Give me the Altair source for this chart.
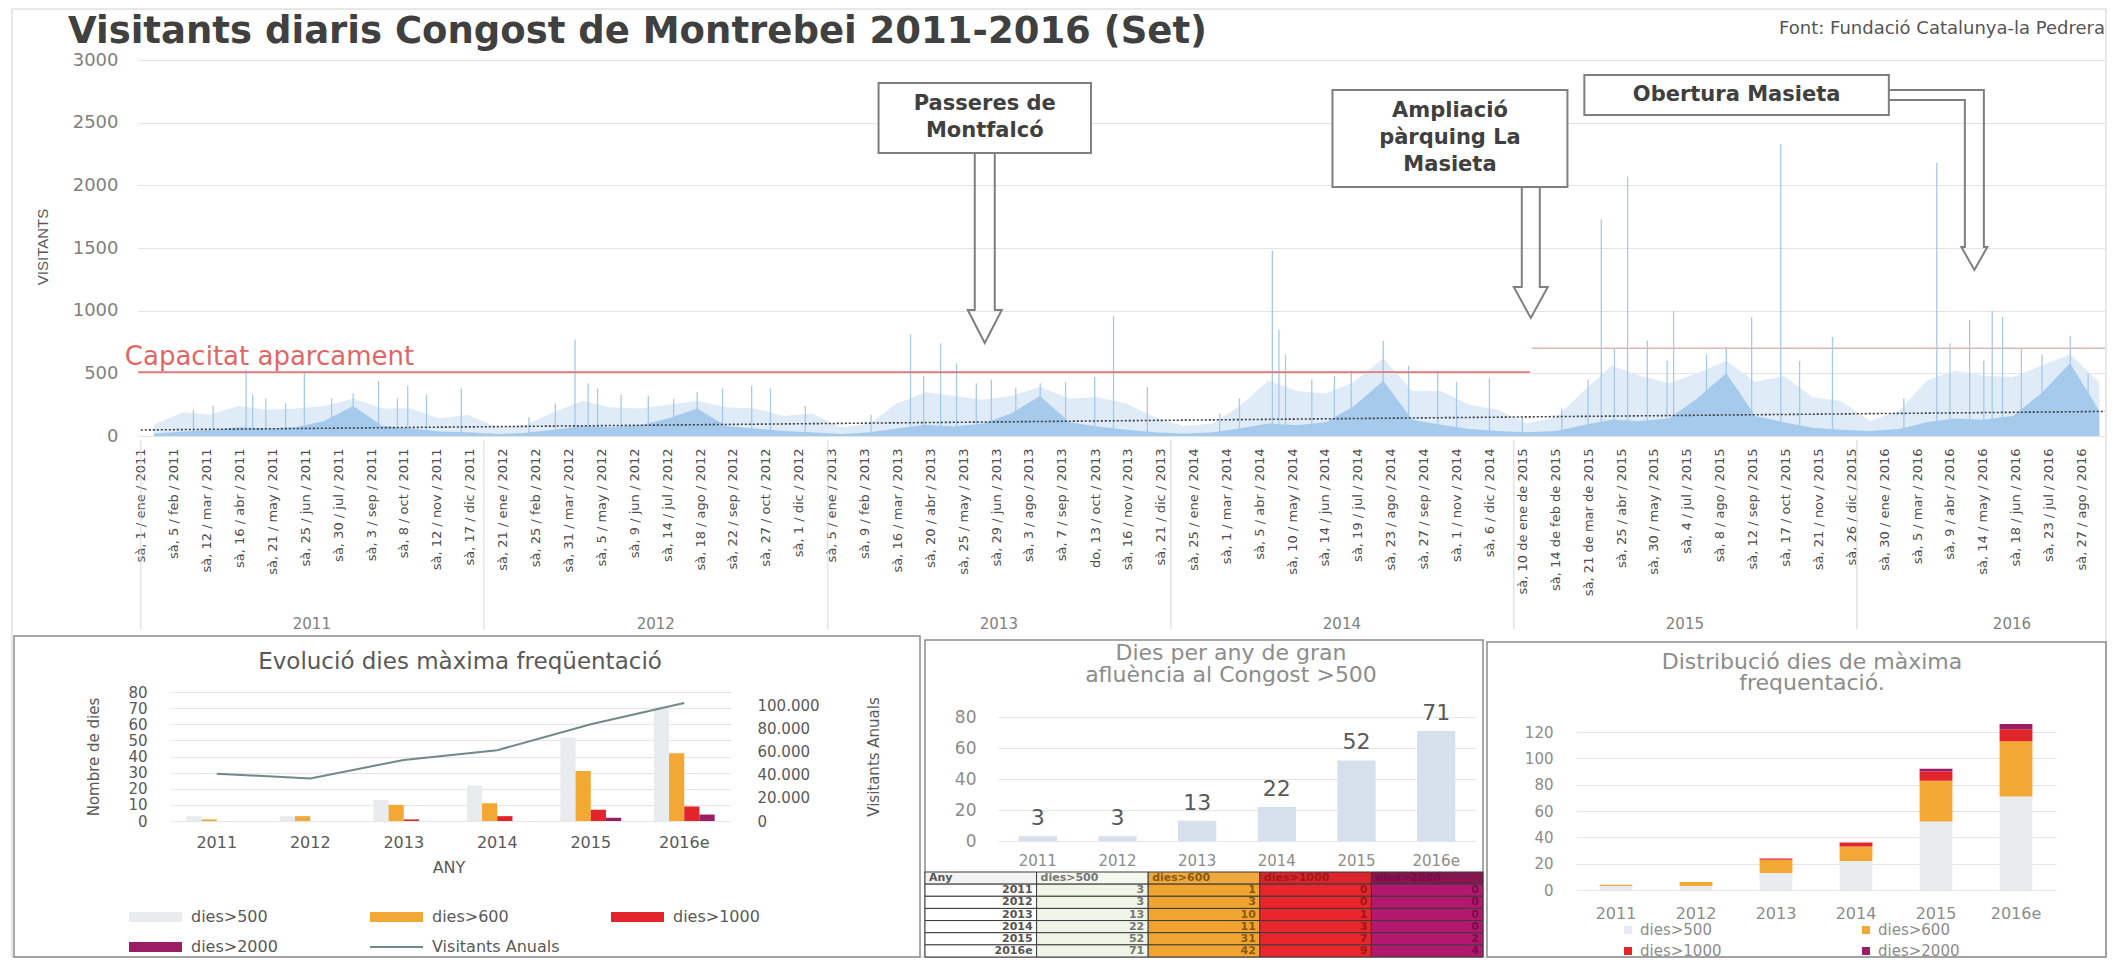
import json
import pandas as pd
import altair as alt

FONT = "DejaVu Sans"

# ------------------------------------------------------------------ texts
TITLE = "Visitants diaris Congost de Montrebei 2011-2016 (Set)"
SOURCE = "Font: Fundació Catalunya-la Pedrera"
Y_TITLE = "VISITANTS"
CAPACITY_LABEL = "Capacitat aparcament"

# ------------------------------------------------------------------ top chart: x ticks
TICK_DATES = [
    "2011-01-01", "2011-02-05", "2011-03-12", "2011-04-16", "2011-05-21", "2011-06-25",
    "2011-07-30", "2011-09-03", "2011-10-08", "2011-11-12", "2011-12-17",
    "2012-01-21", "2012-02-25", "2012-03-31", "2012-05-05", "2012-06-09", "2012-07-14",
    "2012-08-18", "2012-09-22", "2012-10-27", "2012-12-01",
    "2013-01-05", "2013-02-09", "2013-03-16", "2013-04-20", "2013-05-25", "2013-06-29",
    "2013-08-03", "2013-09-07", "2013-10-13", "2013-11-16", "2013-12-21",
    "2014-01-25", "2014-03-01", "2014-04-05", "2014-05-10", "2014-06-14", "2014-07-19",
    "2014-08-23", "2014-09-27", "2014-11-01", "2014-12-06",
    "2015-01-10", "2015-02-14", "2015-03-21", "2015-04-25", "2015-05-30", "2015-07-04",
    "2015-08-08", "2015-09-12", "2015-10-17", "2015-11-21", "2015-12-26",
    "2016-01-30", "2016-03-05", "2016-04-09", "2016-05-14", "2016-06-18", "2016-07-23",
    "2016-08-27",
]
TICK_LABELS = [
    "sà, 1 / ene / 2011", "sà, 5 / feb / 2011", "sà, 12 / mar / 2011", "sà, 16 / abr / 2011",
    "sà, 21 / may / 2011", "sà, 25 / jun / 2011", "sà, 30 / jul / 2011", "sà, 3 / sep / 2011",
    "sà, 8 / oct / 2011", "sà, 12 / nov / 2011", "sà, 17 / dic / 2011",
    "sà, 21 / ene / 2012", "sà, 25 / feb / 2012", "sà, 31 / mar / 2012", "sà, 5 / may / 2012",
    "sà, 9 / jun / 2012", "sà, 14 / jul / 2012", "sà, 18 / ago / 2012", "sà, 22 / sep / 2012",
    "sà, 27 / oct / 2012", "sà, 1 / dic / 2012",
    "sà, 5 / ene / 2013", "sà, 9 / feb / 2013", "sà, 16 / mar / 2013", "sà, 20 / abr / 2013",
    "sà, 25 / may / 2013", "sà, 29 / jun / 2013", "sà, 3 / ago / 2013", "sà, 7 / sep / 2013",
    "do, 13 / oct / 2013", "sà, 16 / nov / 2013", "sà, 21 / dic / 2013",
    "sà, 25 / ene / 2014", "sà, 1 / mar / 2014", "sà, 5 / abr / 2014", "sà, 10 / may / 2014",
    "sà, 14 / jun / 2014", "sà, 19 / jul / 2014", "sà, 23 / ago / 2014", "sà, 27 / sep / 2014",
    "sà, 1 / nov / 2014", "sà, 6 / dic / 2014",
    "sà, 10 de ene de 2015", "sà, 14 de feb de 2015", "sà, 21 de mar de 2015",
    "sà, 25 / abr / 2015", "sà, 30 / may / 2015", "sà, 4 / jul / 2015", "sà, 8 / ago / 2015",
    "sà, 12 / sep / 2015", "sà, 17 / oct / 2015", "sà, 21 / nov / 2015", "sà, 26 / dic / 2015",
    "sà, 30 / ene / 2016", "sà, 5 / mar / 2016", "sà, 9 / abr / 2016", "sà, 14 / may / 2016",
    "sà, 18 / jun / 2016", "sà, 23 / jul / 2016", "sà, 27 / ago / 2016",
]
YEAR_NAMES = ["2011", "2012", "2013", "2014", "2015", "2016"]
YEAR_STARTS = ["2011-01-01", "2012-01-01", "2013-01-01", "2014-01-01", "2015-01-01", "2016-01-01"]
YEAR_LABEL_DAYS = [182, 548, 913, 1278, 1643, 1991]

MONTH_ENV = [
    90, 190, 170, 240, 210, 220, 240, 300, 220, 220, 140, 170,
    70, 90, 190, 280, 230, 220, 250, 280, 230, 220, 160, 180,
    70, 100, 260, 350, 320, 290, 320, 390, 300, 310, 260, 150,
    80, 100, 240, 440, 360, 340, 430, 620, 360, 360, 250, 210,
    100, 150, 350, 560, 480, 420, 500, 600, 430, 480, 310, 280,
    120, 200, 440, 520, 480, 470, 560, 650, 430,
]
MONTH_BASE = [
    20, 35, 45, 70, 60, 70, 120, 240, 80, 60, 35, 30,
    15, 25, 50, 80, 70, 85, 140, 220, 80, 60, 40, 30,
    15, 30, 60, 90, 75, 100, 180, 320, 110, 75, 50, 30,
    20, 30, 60, 100, 85, 110, 240, 440, 130, 90, 55, 40,
    30, 40, 85, 130, 120, 140, 300, 500, 160, 110, 65, 50,
    40, 55, 110, 140, 130, 160, 340, 580, 200,
]
SPIKE_DATES = [
    "2011-02-26", "2011-03-19", "2011-04-23", "2011-04-30", "2011-05-14", "2011-06-04",
    "2011-06-24", "2011-07-23", "2011-08-15", "2011-09-11", "2011-10-01", "2011-10-12",
    "2011-11-01", "2011-12-08",
    "2012-02-18", "2012-03-17", "2012-04-07", "2012-04-21", "2012-05-01", "2012-05-26",
    "2012-06-24", "2012-07-21", "2012-08-15", "2012-09-11", "2012-10-12", "2012-11-01",
    "2012-12-08",
    "2013-02-16", "2013-03-30", "2013-04-13", "2013-05-01", "2013-05-18", "2013-06-08",
    "2013-06-24", "2013-07-20", "2013-08-15", "2013-09-11", "2013-10-12", "2013-11-01",
    "2013-12-07",
    "2014-02-22", "2014-03-15", "2014-04-19", "2014-04-26", "2014-05-03", "2014-05-31",
    "2014-06-24", "2014-07-12", "2014-08-15", "2014-09-11", "2014-10-12", "2014-11-01",
    "2014-12-06",
    "2015-01-10", "2015-02-21", "2015-03-21", "2015-04-04", "2015-04-18", "2015-05-02",
    "2015-05-23", "2015-06-13", "2015-06-20", "2015-07-25", "2015-08-15", "2015-09-11",
    "2015-10-12", "2015-11-01", "2015-12-06",
    "2016-02-20", "2016-03-26", "2016-04-09", "2016-04-30", "2016-05-15", "2016-05-24",
    "2016-06-04", "2016-06-24", "2016-07-16", "2016-08-15", "2016-09-03",
]
SPIKE_VALUES = [
    210, 240, 530, 330, 300, 260, 500, 300, 340, 440, 300, 400, 330, 380,
    150, 260, 770, 420, 380, 330, 320, 300, 350, 380, 400, 380, 240,
    170, 810, 480, 740, 580, 420, 450, 380, 420, 430, 470, 960, 390,
    180, 300, 1480, 850, 650, 450, 480, 520, 760, 560, 520, 430, 460,
    150, 220, 450, 1730, 700, 2070, 760, 600, 1000, 650, 710, 950, 2330, 600, 790,
    300, 2180, 740, 925, 600, 1000, 950, 700, 650, 800, 500,
]
CAP_FROM = ["2010-12-29", "2015-01-20"]
CAP_TO = ["2015-01-18", "2016-09-21"]
CAP_VALUES = [510, 700]
CAP_COLORS = ["#e8767a", "#d8b9b9"]
TREND_DATES = ["2011-01-01", "2016-09-21"]
TREND_VALUES = [48, 196]

# call-outs (x in days since 1 Jan 2011, y in visitors)
CALLOUT_TEXTS = ["Passeres de\nMontfalcó", "Ampliació\npàrquing La\nMasieta", "Obertura Masieta"]
CALLOUT_DAY0 = [785, 1268, 1536]
CALLOUT_DAY1 = [1011, 1518, 1860]
CALLOUT_V0 = [2258, 1987, 2561]
CALLOUT_V1 = [2817, 2761, 2881]
ARROW_DAY = [898, 1479, 1951]
ARROW_NECK = [1005, 1189, 1508]
ARROW_TIP = [742, 942, 1325]

# ------------------------------------------------------------------ bottom panels
YEARS = ["2011", "2012", "2013", "2014", "2015", "2016e"]
SERIES = ["dies>500", "dies>600", "dies>1000", "dies>2000"]
D500 = [3, 3, 13, 22, 52, 71]
D600 = [1, 3, 10, 11, 31, 42]
D1000 = [0, 0, 1, 3, 7, 9]
D2000 = [0, 0, 0, 0, 2, 4]
VISITANTS_ANUALS = [41000, 37000, 53000, 61500, 84000, 102500]

P1_TITLE = "Evolució dies màxima freqüentació"
P2_TITLE = ["Dies per any de gran", "afluència al Congost  >500"]
P3_TITLE = ["Distribució dies de màxima", "frequentació."]

ORANGE = "#f2a833"
RED = "#e2242b"
PURPLE = "#9b1d63"
COLORS_P1 = ["#e9ecef", ORANGE, RED, PURPLE]
COLORS_P3 = ["#edf1f8", ORANGE, RED, PURPLE]
LINE_COLOR = "#6f8a88"

# ------------------------------------------------------------------ helpers
ONE = pd.DataFrame({"k": [0]})
BASE_DAY = pd.Timestamp("2011-01-01")


def to_day(s):
    return int((pd.Timestamp(s) - BASE_DAY).days)


def label(txt, x, y, size, color, weight="normal", align="center", baseline="middle",
          angle=0, font=FONT):
    return alt.Chart(ONE).mark_text(
        text=txt, fontSize=size, color=color, fontWeight=weight, align=align,
        baseline=baseline, angle=angle, font=font,
    ).encode(x=alt.value(x), y=alt.value(y))


def frame(x0, x1, y0, y1, stroke, sw=1.0):
    return alt.Chart(ONE).mark_rect(fillOpacity=0, stroke=stroke, strokeWidth=sw).encode(
        x=alt.value(x0), x2=alt.value(x1), y=alt.value(y0), y2=alt.value(y1))


def swatch(x0, x1, y0, y1, color):
    return alt.Chart(ONE).mark_rect(color=color).encode(
        x=alt.value(x0), x2=alt.value(x1), y=alt.value(y0), y2=alt.value(y1))


# ================================================================== TOP CHART
TW, TH = 2100, 622
X_DOM = [to_day("2010-12-29"), to_day("2016-09-21")]
X_RANGE = [130, 2097]
Y_RANGE = [428, 52]
PX_PER_DAY = (X_RANGE[1] - X_RANGE[0]) / (X_DOM[1] - X_DOM[0])
PX_PER_VIS = (Y_RANGE[0] - Y_RANGE[1]) / 3000.0

xs = alt.Scale(domain=X_DOM, range=X_RANGE, nice=False, zero=False)
ys = alt.Scale(domain=[0, 3000], range=Y_RANGE, nice=False)

TICK_DAYS = [to_day(d) for d in TICK_DATES]
tick_expr = "%s[indexof(%s, datum.value)]" % (
    json.dumps(TICK_LABELS, ensure_ascii=False), json.dumps(TICK_DAYS))

X_AX = alt.Axis(
    values=TICK_DAYS, labelExpr=tick_expr, labelAngle=270, labelFont=FONT,
    labelFontSize=13, labelColor="#4d4d4d", labelPadding=12, labelOverlap=False,
    labelFlush=False, labelBound=False, domain=False, ticks=False, grid=False,
    offset=-194, title=None)
Y_AX = alt.Axis(
    values=[0, 500, 1000, 1500, 2000, 2500, 3000], format="d", grid=True, gridColor="#e3e3e3",
    domain=False, ticks=False, labelFont=FONT, labelFontSize=18, labelColor="#7f7f7f",
    labelPadding=20, offset=-130, title=None)


def X(f):
    return alt.X(f, type="quantitative", scale=xs, axis=X_AX)


def Y(f):
    return alt.Y(f, type="quantitative", scale=ys, axis=Y_AX)


month_pos = pd.date_range("2011-01-01", periods=len(MONTH_ENV), freq="MS") + pd.Timedelta(days=14)
df_month = pd.DataFrame({
    "day": [to_day(d) for d in month_pos],
    "env": MONTH_ENV,
    "base": MONTH_BASE,
})
df_spk = pd.DataFrame({"day": [to_day(d) for d in SPIKE_DATES], "v": SPIKE_VALUES})
df_cap = pd.DataFrame({
    "d0": [to_day(d) for d in CAP_FROM], "d1": [to_day(d) for d in CAP_TO],
    "v": CAP_VALUES, "c": CAP_COLORS,
})
df_trend = pd.DataFrame({"day": [to_day(d) for d in TREND_DATES], "v": TREND_VALUES})
df_ysep = pd.DataFrame({"day": [to_day(d) for d in YEAR_STARTS]})
df_ylab = pd.DataFrame({"day": YEAR_LABEL_DAYS, "name": YEAR_NAMES})

LINE_H = 27
df_box = pd.DataFrame({
    "d0": CALLOUT_DAY0, "d1": CALLOUT_DAY1, "v0": CALLOUT_V0, "v1": CALLOUT_V1,
    "txt": CALLOUT_TEXTS,
})
df_box["dm"] = (df_box.d0 + df_box.d1) / 2
df_box["nl"] = df_box.txt.str.count("\n")
df_box["vm"] = (df_box.v0 + df_box.v1) / 2 + df_box.nl * (LINE_H / 2.0) / PX_PER_VIS

# arrow outlines, built from anchor values + pixel half widths
arrow_rows = []
specs = [(10, 17), (9, 17), (9.5, 13)]
for k in range(3):
    c, n, t = ARROW_DAY[k], ARROW_NECK[k], ARROW_TIP[k]
    shw = specs[k][0] / PX_PER_DAY
    hhw = specs[k][1] / PX_PER_DAY
    if k < 2:
        top = CALLOUT_V0[k]
        pts = [(c - shw, top), (c - shw, n), (c - hhw, n), (c, t), (c + hhw, n),
               (c + shw, n), (c + shw, top)]
    else:
        xr = CALLOUT_DAY1[k]
        yo = 2761
        yi = 2681
        pts = [(xr, yo), (c + shw, yo), (c + shw, n), (c + hhw, n), (c, t), (c - hhw, n),
               (c - shw, n), (c - shw, yi), (xr, yi)]
    for i, (d, v) in enumerate(pts):
        arrow_rows.append({"a": k, "i": i, "day": d, "v": v})
df_arrow = pd.DataFrame(arrow_rows)

BLUE_PALE = "#dfebf7"
BLUE_SPIKE = "#a7c9ea"
BLUE_BASE = "#a6caec"

env = alt.Chart(df_month).mark_area(color=BLUE_PALE).encode(x=X("day"), y=Y("env"))
spikes = alt.Chart(df_spk).mark_rule(color=BLUE_SPIKE, strokeWidth=1.3).encode(
    x=X("day"), y=Y("v"), y2=alt.datum(0))
base = alt.Chart(df_month).mark_area(color=BLUE_BASE).encode(x=X("day"), y=Y("base"))
trend = alt.Chart(df_trend).mark_line(color="#3d3d3d", strokeWidth=1.6, strokeDash=[2, 2]).encode(
    x=X("day"), y=Y("v"))
cap = alt.Chart(df_cap).mark_rule(strokeWidth=1.6).encode(
    x=X("d0"), x2="d1:Q", y=Y("v"), color=alt.Color("c:N", scale=None))
cap_txt = alt.Chart(pd.DataFrame({"day": [-17], "v": [630], "t": [CAPACITY_LABEL]})).mark_text(
    align="left", baseline="middle", fontSize=26, color="#e06666", font=FONT).encode(
    x=X("day"), y=Y("v"), text="t:N")
year_sep = alt.Chart(df_ysep).mark_rule(color="#d6d6d6", strokeWidth=1).encode(
    x=X("day"), y=alt.value(432), y2=alt.value(621))
year_txt = alt.Chart(df_ylab).mark_text(
    fontSize=15, color="#7f7f7f", font=FONT, baseline="middle").encode(
    x=X("day"), y=alt.value(616), text="name:N")
arrows = alt.Chart(df_arrow).mark_line(color="#7f7f7f", strokeWidth=2).encode(
    x=X("day"), y=Y("v"), detail="a:N", order="i:Q")
boxes = alt.Chart(df_box).mark_rect(fill="white", stroke="#7f7f7f", strokeWidth=2).encode(
    x=X("d0"), x2="d1:Q", y=Y("v0"), y2="v1:Q")
box_txt = alt.Chart(df_box).mark_text(
    fontSize=21, fontWeight="bold", color="#404040", font=FONT, lineBreak="\n",
    lineHeight=LINE_H, baseline="middle").encode(x=X("dm"), y=Y("vm"), text="txt:N")

top = alt.layer(
    frame(4, 2098, 1, 949, "#d0d0d0"),
    env, spikes, base, trend, cap, cap_txt, year_sep, year_txt,
    arrows, boxes, box_txt,
    label(TITLE, 60, 35, 37, "#404040", weight="bold", align="left", baseline="alphabetic"),
    label(SOURCE, 2097, 21, 18, "#555555", align="right"),
    label(Y_TITLE, 35, 239, 15, "#595959", angle=270, font="Liberation Sans"),
).properties(width=TW, height=TH)

# ================================================================== PANEL 1
P1W, PH = 914, 328
df_years = pd.DataFrame({"year": YEARS, "vis": VISITANTS_ANUALS, "d500": D500})
long_rows = []
for i, y in enumerate(YEARS):
    for j, (s, vals) in enumerate(zip(SERIES, [D500, D600, D1000, D2000])):
        long_rows.append({"year": y, "serie": s, "dies": vals[i], "ord": j})
df_long = pd.DataFrame(long_rows)

p1_x = alt.X("year:N", sort=YEARS, scale=alt.Scale(
    domain=YEARS, range=[162, 723], paddingInner=0.35, paddingOuter=0.175),
    axis=alt.Axis(labelAngle=0, domain=False, ticks=False, labelFont=FONT, labelFontSize=16,
                  labelColor="#595959", labelPadding=13, offset=-137, title=None))
bars1 = alt.Chart(df_long).mark_bar().encode(
    x=p1_x,
    xOffset=alt.XOffset("serie:N", sort=SERIES, scale=alt.Scale(domain=SERIES)),
    y=alt.Y("dies:Q", scale=alt.Scale(domain=[0, 80], range=[191, 62], nice=False),
            axis=alt.Axis(orient="left", values=list(range(0, 81, 10)), grid=True,
                          gridColor="#e6e6e6", domain=False, ticks=False, labelFont=FONT,
                          labelFontSize=15, labelColor="#595959", labelPadding=23,
                          offset=-162, title=None)),
    color=alt.Color("serie:N", scale=alt.Scale(domain=SERIES, range=COLORS_P1), legend=None),
)
line1 = alt.Chart(df_years).mark_line(color=LINE_COLOR, strokeWidth=2).encode(
    x=p1_x,
    y=alt.Y("vis:Q", scale=alt.Scale(domain=[0, 112000], range=[191, 62], nice=False),
            axis=alt.Axis(orient="right", values=[0, 20000, 40000, 60000, 80000, 100000],
                          labelExpr="replace(format(datum.value, ','), ',', '.')",
                          grid=False, domain=False, ticks=False, labelFont=FONT,
                          labelFontSize=15, labelColor="#595959", labelPadding=26,
                          offset=-191, title=None)),
)
p1_layers = [
    frame(6, 912, 6, 327, "#8c8c8c", 1.5),
    label(P1_TITLE, 452, 32, 23, "#595959"),
    bars1, line1,
    label("Nombre de dies", 86, 127, 15, "#595959", angle=270),
    label("Visitants Anuals", 866, 127, 15, "#595959", angle=270),
    label("ANY", 441, 238, 16, "#595959"),
]
LEG1 = [(SERIES[0], COLORS_P1[0], "bar"), (SERIES[1], ORANGE, "bar"), (SERIES[2], RED, "bar"),
        (SERIES[3], PURPLE, "bar"), ("Visitants Anuals", LINE_COLOR, "line")]
for k, (name, col, kind) in enumerate(LEG1):
    cx = 121 + (k % 3) * 241
    cy = 287 + (k // 3) * 30
    if kind == "bar":
        p1_layers.append(swatch(cx, cx + 53, cy - 5, cy + 5, col))
    else:
        p1_layers.append(swatch(cx, cx + 53, cy - 1, cy + 1, col))
    p1_layers.append(label(name, cx + 62, cy, 16, "#595959", align="left"))
p1 = alt.layer(*p1_layers).resolve_scale(y="independent").properties(width=P1W, height=PH)

# ================================================================== PANEL 2
P2W = 563
p2_x = alt.X("year:N", sort=YEARS, scale=alt.Scale(
    domain=YEARS, range=[76, 554], paddingInner=0.52, paddingOuter=0.26),
    axis=alt.Axis(labelAngle=0, domain=False, ticks=False, labelFont=FONT, labelFontSize=15,
                  labelColor="#8c8c8c", labelPadding=12, offset=-117, title=None))
p2_y = alt.Y("d500:Q", scale=alt.Scale(domain=[0, 80], range=[211, 87], nice=False),
             axis=alt.Axis(values=[0, 20, 40, 60, 80], grid=True, gridColor="#e6e6e6",
                           domain=False, ticks=False, labelFont=FONT, labelFontSize=17,
                           labelColor="#8c8c8c", labelPadding=22, offset=-76, title=None))
bars2 = alt.Chart(df_years).mark_bar(color="#d6dfec").encode(x=p2_x, y=p2_y)
lab2 = alt.Chart(df_years).mark_text(
    baseline="bottom", dy=-6, fontSize=22, color="#595959", font=FONT).encode(
    x=p2_x, y=p2_y, text="d500:Q")
chart2 = alt.layer(bars2, lab2)

TCOLS = ["Any", "dies>500", "dies>600", "dies>1000", "dies>2000"]
TROWS = ["hdr"] + YEARS
HDR_FILL = ["#f3f3f3", "#f4f8ee", "#f0a93e", "#d9252b", "#861650"]
CELL_FILL = ["#ffffff", "#eff5e7", "#f1a531", "#e8262c", "#b3186f"]
TXT_COL = ["#555555", "#777777", "#8a5a10", "#a01818", "#7a0a48"]
t_rows = []
for ci, cname in enumerate(TCOLS):
    t_rows.append({"col": cname, "row": "hdr", "txt": cname, "fill": HDR_FILL[ci],
                   "tc": TXT_COL[ci], "al": "left"})
    vals = [YEARS, D500, D600, D1000, D2000][ci]
    for ri, y in enumerate(YEARS):
        t_rows.append({"col": cname, "row": y, "txt": str(vals[ri]), "fill": CELL_FILL[ci],
                       "tc": TXT_COL[ci], "al": "right"})
df_table = pd.DataFrame(t_rows)
t_xs = alt.Scale(domain=TCOLS, range=[3, 561], paddingInner=0, paddingOuter=0)
t_ys = alt.Scale(domain=TROWS, range=[242, 327], paddingInner=0, paddingOuter=0)
t_rect = alt.Chart(df_table).mark_rect(stroke="#3a3a3a", strokeWidth=1).encode(
    x=alt.X("col:N", sort=TCOLS, scale=t_xs, axis=None),
    y=alt.Y("row:N", sort=TROWS, scale=t_ys, axis=None),
    color=alt.Color("fill:N", scale=None))
t_txt_r = alt.Chart(df_table[df_table.al == "right"]).mark_text(
    align="right", dx=-4, fontSize=11, fontWeight="bold", font=FONT, baseline="middle").encode(
    x=alt.X("col:N", sort=TCOLS, scale=t_xs, axis=None, bandPosition=1),
    y=alt.Y("row:N", sort=TROWS, scale=t_ys, axis=None),
    text="txt:N", color=alt.Color("tc:N", scale=None))
t_txt_l = alt.Chart(df_table[df_table.al == "left"]).mark_text(
    align="left", dx=4, fontSize=11, fontWeight="bold", font=FONT, baseline="middle").encode(
    x=alt.X("col:N", sort=TCOLS, scale=t_xs, axis=None, bandPosition=0),
    y=alt.Y("row:N", sort=TROWS, scale=t_ys, axis=None),
    text="txt:N", color=alt.Color("tc:N", scale=None))
table = alt.layer(t_rect, t_txt_r, t_txt_l)

p2 = alt.layer(
    frame(3, 561, 10, 327, "#8c8c8c", 1.5),
    label(P2_TITLE[0], 309, 23, 22, "#8c8c8c"),
    label(P2_TITLE[1], 309, 45, 22, "#8c8c8c"),
    chart2, table,
).resolve_scale(x="independent", y="independent").properties(width=P2W, height=PH)

# ================================================================== PANEL 3
P3W = 623
p3_x = alt.X("year:N", sort=YEARS, scale=alt.Scale(
    domain=YEARS, range=[91, 571], paddingInner=0.59, paddingOuter=0.295),
    axis=alt.Axis(labelAngle=0, domain=False, ticks=False, labelFont=FONT, labelFontSize=16,
                  labelColor="#8c8c8c", labelPadding=15, offset=-68, title=None))
bars3 = alt.Chart(df_long).mark_bar().encode(
    x=p3_x,
    y=alt.Y("dies:Q", stack="zero", scale=alt.Scale(domain=[0, 120], range=[260, 102], nice=False),
            axis=alt.Axis(values=[0, 20, 40, 60, 80, 100, 120], grid=True, gridColor="#e6e6e6",
                          domain=False, ticks=False, labelFont=FONT, labelFontSize=15,
                          labelColor="#8c8c8c", labelPadding=23, offset=-91, title=None)),
    color=alt.Color("serie:N", scale=alt.Scale(domain=SERIES, range=COLORS_P3), legend=None),
    order=alt.Order("ord:Q"),
)
p3_layers = [
    frame(2, 621, 12, 327, "#8c8c8c", 1.5),
    label(P3_TITLE[0], 327, 32, 22, "#8c8c8c"),
    label(P3_TITLE[1], 327, 53, 22, "#8c8c8c"),
    bars3,
]
LEG3_COL = ["#e6ebf2", ORANGE, RED, PURPLE]
for k, name in enumerate(SERIES):
    cx = 143 + (k % 2) * 238
    cy = 300 + (k // 2) * 21
    p3_layers.append(swatch(cx - 4, cx + 4, cy - 4, cy + 4, LEG3_COL[k]))
    p3_layers.append(label(name, cx + 12, cy, 15, "#8c8c8c", align="left"))
p3 = alt.layer(*p3_layers).properties(width=P3W, height=PH)

# ================================================================== assemble
bottom = alt.hconcat(p1, p2, p3, spacing=0, bounds="flush")
chart = alt.vconcat(top, bottom, spacing=0, bounds="flush").properties(
    padding=0
).configure_view(stroke=None).configure_axis(labelFont=FONT)

chart.save("out.html", embed_options={"renderer": "svg", "actions": False})
